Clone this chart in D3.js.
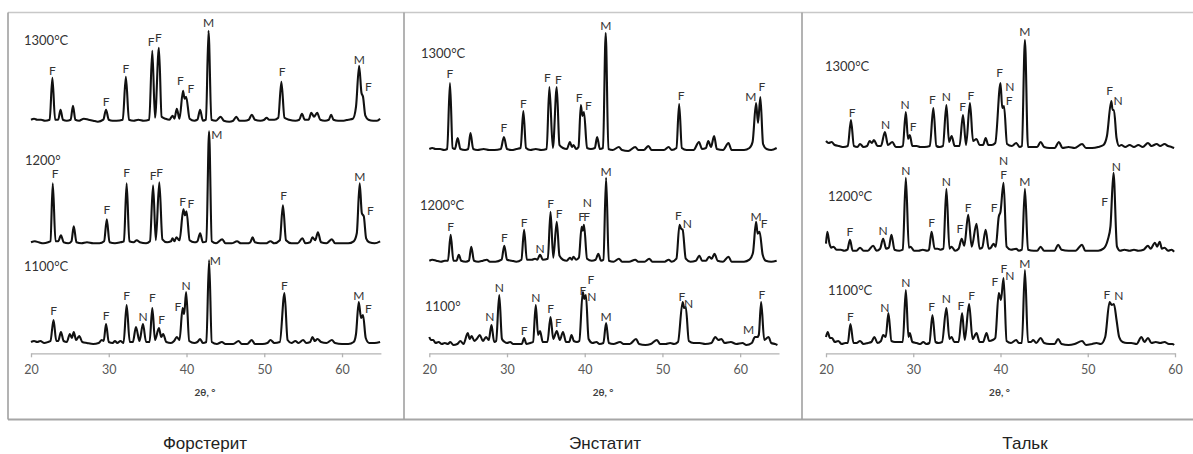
<!DOCTYPE html>
<html>
<head>
<meta charset="utf-8">
<script src="https://cdn.jsdelivr.net/npm/d3@7"></script>
<style>
  body { margin: 0; background: #fff; }
  svg { display: block; }
</style>
</head>
<body>
<svg id="chart"></svg>
<script>
"use strict"
// minerali e temperature
const minerals = ["Форстерит", "Энстатит", "Тальк"];
const temps = [["1300°C", "1200°", "1100°C"], ["1300°C", "1200°C", "1100°"], ["1300°C", "1200°C", "1100°C"]];
const xMax = [65, 65, 60];
const ticks = [[20, 30, 40, 50, 60], [20, 30, 40, 50, 60], [20, 30, 40, 50, 60]];
const axisTitle = "2θ, °";

// diffrattogrammi: [2θ, intensità]
const fo1300 = [[20.0,1],[20.4,2],[20.8,1],[21.3,1],[21.8,0],[22.4,1],[22.75,43],[23.1,1],[23.5,1],[23.8,11],[24.1,1],[24.6,0],[25.1,1],[25.4,15],[25.7,1],[26.2,0],[26.8,2],[27.4,1],[28.0,0],[28.6,-1],[29.3,1],[29.65,11],[30.0,1],[30.5,0],[31.0,0],[31.8,1],[32.2,44],[32.6,1],[33.2,0],[33.8,1],[34.5,0],[35.2,1],[35.6,70],[35.95,3],[36.45,73],[36.8,4],[37.3,2],[37.8,1],[38.2,5],[38.45,2],[38.75,12],[39.1,2],[39.55,30],[39.75,22],[39.95,24],[40.4,2],[41.0,0],[41.4,1],[41.75,11],[42.1,0],[42.5,1],[42.83,90],[43.2,1],[43.8,0],[44.4,4],[44.8,0],[45.5,-1],[46.0,0],[46.4,4],[46.8,0],[47.5,0],[48.0,1],[48.4,6],[48.8,1],[49.5,0],[50.0,1],[50.3,3],[50.6,1],[51.3,1],[51.8,3],[52.2,39],[52.6,3],[53.2,1],[54.0,0],[54.5,1],[54.85,7],[55.2,1],[55.7,1],[56.05,8],[56.4,4],[56.8,8],[57.2,1],[57.8,0],[58.3,1],[58.6,6],[58.9,1],[59.5,0],[60.2,0],[60.8,1],[61.4,2],[61.8,14],[62.2,55],[62.5,28],[62.7,24],[63.0,5],[63.4,1],[64.0,0],[64.5,0],[64.9,2]];
const fo1200 = [[20.0,1],[20.5,2],[21.0,1],[21.6,0],[22.2,1],[22.5,2],[22.8,60],[23.15,2],[23.5,2],[23.85,8],[24.2,1],[24.8,0],[25.2,2],[25.5,17],[25.85,1],[26.5,0],[27.2,1],[28.0,0],[28.8,0],[29.4,2],[29.75,24],[30.1,1],[30.8,0],[31.5,1],[31.95,2],[32.3,60],[32.65,2],[33.2,1],[33.6,3],[34.0,1],[34.8,0],[35.3,2],[35.7,58],[36.05,3],[36.5,61],[36.9,4],[37.5,1],[38.0,2],[38.2,5],[38.45,2],[38.7,6],[39.1,3],[39.6,34],[39.8,28],[40.0,32],[40.4,3],[41.0,1],[41.4,2],[41.75,10],[42.1,1],[42.55,2],[42.9,112],[43.25,2],[43.8,0],[44.6,4],[45.0,0],[45.8,0],[46.5,2],[47.0,0],[47.8,0],[48.2,1],[48.5,6],[48.8,1],[49.5,0],[50.2,0],[50.8,2],[51.3,0],[52.0,3],[52.4,38],[52.8,3],[53.5,0],[54.3,0],[54.9,5],[55.3,0],[55.9,1],[56.2,6],[56.55,3],[56.9,11],[57.3,1],[58.0,0],[58.7,4],[59.1,0],[60.0,0],[60.8,0],[61.5,2],[61.9,10],[62.27,60],[62.55,30],[62.8,27],[63.1,5],[63.5,1],[64.2,0],[64.9,2]];
const fo1100 = [[20.0,2],[20.4,3],[20.8,2],[21.2,3],[21.7,1],[22.2,2],[22.5,3],[22.9,24],[23.25,3],[23.5,3],[23.85,12],[24.2,3],[24.6,2],[25.0,10],[25.25,6],[25.5,12],[25.8,4],[26.2,8],[26.6,2],[27.2,1],[28.0,0],[28.7,1],[29.1,4],[29.35,3],[29.65,20],[30.0,2],[30.5,1],[30.8,3],[31.1,1],[31.5,3],[31.9,1],[32.3,39],[32.7,2],[33.1,2],[33.5,17],[33.95,3],[34.4,20],[34.8,2],[35.25,2],[35.6,36],[35.95,4],[36.45,16],[36.75,7],[37.0,10],[37.4,2],[38.0,1],[38.4,3],[38.75,7],[39.1,4],[39.5,36],[39.7,30],[39.95,52],[40.35,3],[41.0,1],[41.4,2],[41.75,5],[42.1,1],[42.55,2],[42.9,84],[43.25,2],[43.9,0],[44.55,2],[45.0,0],[46.0,0],[46.7,3],[47.1,0],[47.8,0],[48.4,4],[48.8,0],[49.8,0],[50.4,1],[50.8,4],[51.3,1],[52.0,2],[52.6,51],[53.0,4],[53.5,1],[54.0,3],[54.4,1],[55.0,4],[55.4,1],[55.9,2],[56.2,7],[56.5,3],[56.85,5],[57.3,2],[58.0,1],[58.7,4],[59.1,1],[60.0,0],[60.8,0],[61.5,2],[61.8,10],[62.15,42],[62.45,26],[62.7,29],[63.05,6],[63.5,1],[64.2,1],[64.9,2]];

const en1300 = [[20.0,1],[20.4,2],[20.8,1],[21.4,1],[21.9,0],[22.3,1],[22.66,67],[23.0,2],[23.3,1],[23.65,12],[24.0,1],[24.6,0],[25.0,1],[25.3,17],[25.65,1],[26.2,0],[27.0,1],[27.7,0],[28.4,0],[29.2,1],[29.6,13],[30.0,1],[30.6,0],[31.2,1],[31.75,2],[32.1,39],[32.45,2],[33.0,0],[33.7,1],[34.4,0],[35.1,1],[35.45,63],[35.9,2],[36.4,63],[36.75,5],[37.2,2],[37.7,1],[38.1,8],[38.35,3],[38.55,5],[38.9,1],[39.2,3],[39.5,45],[39.7,34],[39.9,38],[40.3,2],[40.8,1],[41.3,2],[41.6,13],[41.95,1],[42.35,2],[42.7,117],[43.05,1],[43.6,0],[44.4,3],[44.8,0],[45.6,-1],[46.5,3],[46.9,0],[47.6,0],[48.2,4],[48.6,0],[49.4,0],[50.2,0],[50.8,3],[51.2,0],[51.8,2],[52.15,46],[52.5,2],[53.1,0],[54.0,0],[54.7,8],[55.1,1],[55.6,2],[55.9,9],[56.25,3],[56.65,14],[57.0,1],[57.8,0],[58.5,7],[58.9,0],[59.8,0],[60.5,0],[61.2,2],[61.6,8],[62.05,47],[62.3,27],[62.6,53],[62.95,6],[63.4,1],[64.0,0],[64.7,2]];
const en1200 = [[20.0,1],[20.4,2],[20.9,1],[21.5,0],[22.0,1],[22.4,1],[22.75,27],[23.1,1],[23.5,1],[23.8,7],[24.1,1],[24.7,0],[25.1,1],[25.4,15],[25.75,1],[26.3,0],[26.9,1],[27.4,2],[27.8,0],[28.5,0],[29.3,2],[29.65,16],[30.0,2],[30.6,1],[31.2,0],[31.85,2],[32.2,32],[32.55,2],[33.2,2],[33.6,3],[33.9,2],[34.25,7],[34.6,2],[35.25,3],[35.6,50],[35.95,4],[36.4,40],[36.75,6],[37.2,2],[37.7,1],[38.1,4],[38.35,2],[38.55,5],[38.9,2],[39.25,4],[39.6,35],[39.75,31],[39.9,37],[40.3,3],[40.9,1],[41.4,2],[41.75,8],[42.1,1],[42.4,2],[42.75,84],[43.1,1],[43.7,0],[44.4,3],[44.8,0],[45.7,0],[46.5,2],[46.9,0],[47.7,0],[48.3,3],[48.7,0],[49.6,0],[50.3,0],[50.8,2],[51.2,0],[51.8,3],[52.2,37],[52.4,33],[52.6,32],[53.0,3],[53.6,0],[54.3,1],[54.75,6],[55.1,1],[55.6,1],[56.0,5],[56.35,3],[56.7,8],[57.1,1],[57.8,0],[58.5,5],[58.9,0],[59.8,0],[60.5,0],[61.2,2],[61.65,9],[62.05,40],[62.25,28],[62.5,30],[62.9,7],[63.3,1],[64.0,0],[64.7,1]];
const en1100 = [[20.0,8],[20.2,5],[20.5,5],[20.8,2],[21.2,3],[21.6,1],[22.0,2],[22.4,1],[22.7,3],[23.1,0],[23.6,1],[24.0,4],[24.4,1],[24.95,12],[25.2,6],[25.45,9],[25.8,4],[26.1,6],[26.5,10],[26.9,4],[27.3,8],[27.65,5],[28.0,20],[28.35,3],[28.6,4],[29.0,50],[29.35,6],[29.7,3],[30.0,2],[30.4,3],[30.8,1],[31.4,1],[31.9,1],[32.2,7],[32.5,1],[33.0,2],[33.35,3],[33.7,40],[34.0,10],[34.25,14],[34.6,3],[35.2,3],[35.6,28],[35.95,6],[36.4,14],[36.8,5],[37.2,13],[37.6,3],[38.0,3],[38.3,10],[38.6,4],[39.0,3],[39.3,4],[39.75,53],[39.95,46],[40.15,50],[40.5,6],[41.0,2],[41.5,3],[41.9,1],[42.4,2],[42.75,22],[43.1,2],[43.7,1],[44.55,3],[45.0,1],[45.8,1],[46.6,6],[47.0,1],[47.8,0],[48.5,1],[49.3,5],[49.7,1],[50.4,1],[51.0,2],[51.5,1],[52.0,3],[52.6,43],[52.8,37],[53.0,38],[53.4,4],[54.0,2],[54.8,2],[55.5,1],[56.3,2],[56.8,8],[57.2,5],[57.6,6],[58.0,2],[58.8,3],[59.5,1],[60.3,2],[60.8,0],[61.5,2],[61.9,8],[62.2,8],[62.4,10],[62.7,43],[63.1,5],[63.65,8],[64.0,2],[64.5,1],[64.8,0]];

const ta1300 = [[20.0,7],[20.3,5],[20.65,6],[21.0,3],[21.5,2],[22.0,1],[22.5,2],[22.86,28],[23.2,2],[23.6,1],[23.9,4],[24.3,1],[24.7,2],[25.0,7],[25.25,5],[25.5,8],[25.9,2],[26.3,2],[26.75,16],[27.1,3],[27.6,6],[28.0,1],[28.5,1],[28.8,2],[29.15,36],[29.4,9],[29.6,13],[29.9,2],[30.4,2],[30.8,1],[31.3,1],[31.9,2],[32.3,40],[32.65,2],[33.0,1],[33.4,2],[33.8,43],[34.1,6],[34.4,12],[34.75,2],[35.3,2],[35.7,33],[36.05,3],[36.5,45],[36.85,7],[37.25,9],[37.6,3],[38.0,3],[38.3,10],[38.6,3],[39.0,3],[39.4,5],[40.0,65],[40.2,40],[40.4,42],[40.75,4],[41.3,2],[41.8,5],[42.2,1],[42.45,2],[42.8,108],[43.15,1],[43.7,1],[44.2,1],[44.6,6],[45.0,1],[45.6,0],[46.2,0],[46.7,6],[47.1,0],[47.8,1],[48.5,0],[49.35,4],[49.8,0],[50.5,0],[51.2,1],[51.8,3],[52.2,12],[52.7,47],[52.85,38],[53.0,38],[53.3,10],[53.6,2],[53.85,3],[54.3,1],[54.8,3],[55.3,1],[55.8,3],[56.3,1],[56.9,5],[57.3,2],[57.9,4],[58.3,2],[58.8,4],[59.2,2],[59.6,1],[59.9,0]];
const ta1200 = [[20.0,8],[20.15,20],[20.4,8],[20.6,4],[20.85,5],[21.2,2],[21.7,2],[22.1,1],[22.45,2],[22.75,12],[23.05,1],[23.5,1],[23.9,4],[24.3,1],[24.8,1],[25.4,6],[25.8,1],[26.2,3],[26.55,13],[26.9,3],[27.2,4],[27.5,17],[27.85,2],[28.4,1],[28.8,2],[29.15,74],[29.5,4],[29.7,5],[30.1,1],[30.6,1],[31.1,2],[31.6,1],[31.8,2],[32.1,20],[32.45,3],[32.8,3],[33.1,2],[33.45,3],[33.8,63],[34.15,3],[34.4,5],[34.8,1],[35.2,3],[35.55,13],[35.85,6],[36.3,37],[36.7,5],[37.25,28],[37.6,3],[37.9,4],[38.3,22],[38.65,3],[38.9,4],[39.2,8],[39.45,5],[39.8,35],[40.0,40],[40.35,69],[40.7,5],[41.2,2],[41.8,3],[42.1,1],[42.45,2],[42.8,63],[43.15,2],[43.8,1],[44.2,1],[44.6,5],[45.0,1],[45.8,1],[46.2,1],[46.6,7],[47.0,2],[47.8,1],[48.6,1],[49.35,7],[49.7,1],[50.5,1],[51.2,1],[51.8,3],[52.3,12],[52.6,25],[52.95,79],[53.35,5],[53.7,1],[54.2,2],[54.8,1],[55.3,2],[55.8,1],[56.4,2],[56.9,6],[57.2,3],[57.7,9],[57.95,5],[58.25,10],[58.5,3],[58.8,4],[59.2,1],[59.6,2],[59.9,0]];
const ta1100 = [[20.0,8],[20.2,13],[20.45,7],[20.7,7],[21.0,3],[21.4,4],[21.8,1],[22.2,2],[22.5,2],[22.8,21],[23.15,2],[23.5,2],[23.9,4],[24.3,1],[24.8,2],[25.2,3],[25.55,8],[25.9,2],[26.3,4],[26.55,10],[26.85,8],[27.15,32],[27.5,4],[27.9,3],[28.3,3],[28.8,3],[29.15,55],[29.45,8],[29.6,12],[29.9,3],[30.4,2],[30.8,1],[31.15,3],[31.5,1],[31.85,2],[32.2,30],[32.55,3],[32.9,2],[33.3,3],[33.8,37],[34.15,6],[34.4,8],[34.7,3],[35.2,3],[35.6,32],[35.9,5],[36.4,41],[36.8,6],[37.25,12],[37.6,3],[38.0,3],[38.4,12],[38.7,4],[39.1,5],[39.4,7],[39.8,52],[40.05,45],[40.35,67],[40.7,4],[41.2,2],[41.8,5],[42.1,2],[42.45,2],[42.8,75],[43.15,3],[43.5,3],[43.75,5],[44.1,2],[44.6,7],[45.0,2],[45.6,1],[46.2,1],[46.6,6],[47.0,1],[47.8,0],[48.5,1],[49.35,4],[49.8,0],[50.5,1],[51.0,2],[51.5,1],[52.0,8],[52.5,43],[52.75,40],[53.0,41],[53.3,25],[53.6,8],[54.0,3],[54.5,2],[55.0,2],[55.6,1],[56.15,8],[56.5,3],[56.9,7],[57.3,2],[57.8,3],[58.3,2],[58.8,3],[59.3,1],[59.7,1],[59.9,0]];

// etichette dei picchi: [2θ, intensità, fase]
const foLab1300 = [[22.75,46,"F"],[29.65,15,"F"],[32.2,48,"F"],[35.45,75,"F"],[36.4,79,"F"],[39.2,36,"F"],[40.55,28,"F"],[42.83,94,"M"],[52.3,45,"F"],[62.23,57,"M"],[63.4,30,"F"]];
const foLab1200 = [[23.1,65,"F"],[29.75,29,"F"],[32.3,66,"F"],[35.7,63,"F"],[36.55,66,"F"],[39.5,37,"F"],[40.55,35,"F"],[43.9,104,"M"],[52.5,43,"F"],[62.3,62,"M"],[63.65,28,"F"]];
const foLab1100 = [[22.9,29,"F"],[29.65,24,"F"],[32.3,44,"F"],[34.4,23,"N"],[35.6,42,"F"],[36.8,20,"F"],[38.9,33,"F"],[39.95,54,"N"],[43.7,79,"M"],[52.6,54,"F"],[62.15,44,"M"],[63.4,31,"F"]];
const enLab1300 = [[22.66,72,"F"],[29.6,18,"F"],[32.1,42,"F"],[35.2,68,"F"],[36.6,66,"F"],[39.27,48,"F"],[40.47,40,"F"],[42.7,120,"M"],[52.4,50,"F"],[61.37,49,"M"],[62.8,59,"F"]];
const enLab1200 = [[22.75,31,"F"],[29.65,20,"F"],[32.2,35,"F"],[34.25,9,"N"],[35.6,54,"F"],[36.7,44,"F"],[39.6,41,"F"],[40.25,41,"F"],[40.35,55,"N"],[42.75,86,"M"],[52.06,42,"F"],[53.2,34,"N"],[62.05,41,"M"],[63.1,34,"F"]];
const enLab1100 = [[27.8,24,"N"],[29.0,53,"N"],[32.2,10,"F"],[33.7,43,"N"],[35.6,32,"F"],[36.6,18,"F"],[39.75,50,"F"],[40.8,61,"F"],[40.9,44,"N"],[42.75,24,"M"],[52.5,44,"F"],[53.35,37,"N"],[61.07,11,"M"],[62.8,46,"F"]];
const taLab1300 = [[23.0,31,"F"],[26.83,19,"N"],[29.05,39,"N"],[30.0,17,"F"],[32.2,44,"F"],[33.8,47,"N"],[35.65,37,"F"],[36.6,48,"F"],[39.9,71,"F"],[41.07,57,"N"],[41.0,43,"F"],[42.8,112,"M"],[52.5,53,"F"],[53.47,43,"N"]];
const taLab1200 = [[22.75,16,"F"],[26.55,17,"N"],[29.15,77,"N"],[32.1,25,"F"],[33.8,66,"N"],[35.35,19,"F"],[36.3,40,"F"],[39.27,40,"F"],[40.35,87,"N"],[40.35,73,"F"],[42.8,66,"M"],[51.95,46,"F"],[53.28,81,"N"]];
const taLab1100 = [[22.8,24,"F"],[26.75,33,"N"],[29.15,58,"N"],[32.1,34,"F"],[33.8,42,"N"],[35.45,35,"F"],[36.7,45,"F"],[39.35,59,"F"],[40.38,72,"F"],[41.07,65,"N"],[42.8,77,"M"],[52.2,46,"F"],[53.55,45,"N"]];

const traces = [[fo1300, fo1200, fo1100], [en1300, en1200, en1100], [ta1300, ta1200, ta1100]];
const peakLabels = [[foLab1300, foLab1200, foLab1100], [enLab1300, enLab1200, enLab1100], [taLab1300, taLab1200, taLab1100]];

// impaginazione
const W = 1193, H = 454;
const frame = { left: 8, top: 12.5, bottom: 419.5, dividers: [404, 802] };
const axisY = 353.3;
const xRanges = [[31, 380.9], [429.3, 779], [826, 1175]];
const baseY = [[120.7, 243.3, 344], [150, 261.7, 345], [148, 251.7, 345]];
const tempPos = [[[24, 44.5], [25, 164.5], [24, 271]], [[421, 58], [420, 209.5], [425, 310.5]], [[825, 71], [828, 201], [828, 294.5]]];
const titleX = [205, 605, 1025];

const svg = d3.select("#chart").attr("width", W).attr("height", H);
const font = "Lato, 'Open Sans', 'Noto Sans', sans-serif";

// cornice
const cornice = svg.append("g").attr("fill", "none");
cornice.append("line").attr("x1", frame.left).attr("x2", W).attr("y1", frame.top).attr("y2", frame.top)
  .attr("stroke", "#c8c8c8").attr("stroke-width", 1.5);
cornice.append("line").attr("x1", frame.left).attr("x2", W).attr("y1", frame.bottom).attr("y2", frame.bottom)
  .attr("stroke", "#a6a6a6").attr("stroke-width", 2);
[frame.left].concat(frame.dividers).forEach(function (x) {
  cornice.append("line").attr("x1", x).attr("x2", x).attr("y1", frame.top).attr("y2", frame.bottom)
    .attr("stroke", "#a0a0a0").attr("stroke-width", 1.6);
});

minerals.forEach(function (name, p) {
  const g = svg.append("g");
  const scalaX = d3.scaleLinear().domain([20, xMax[p]]).range(xRanges[p]);
  // 1 unità di intensità = 1 px
  const scalaY = d3.scaleLinear().domain([0, 340]).range([axisY, axisY - 340]);

  const asseX = d3.axisBottom(scalaX).tickValues(ticks[p]).tickSize(4).tickSizeOuter(0).tickPadding(8);
  const ax = g.append("g").attr("transform", `translate(0,${axisY})`).call(asseX);
  ax.select(".domain").attr("stroke", "#b3b3b3").attr("stroke-width", 1.3);
  ax.selectAll(".tick line").attr("stroke", "#b3b3b3").attr("stroke-width", 1.3);
  ax.selectAll(".tick text").attr("fill", "#595959").attr("font-size", "12.5px").attr("font-family", font);

  g.append("text")
    .attr("x", (xRanges[p][0] + xRanges[p][1]) / 2 - 1)
    .attr("y", 396)
    .attr("text-anchor", "middle")
    .attr("font-size", "10px").attr("font-weight", "bold").attr("fill", "#404040")
    .attr("font-family", font)
    .text(axisTitle);

  const linea = d3.line()
    .x(function (d) { return scalaX(d[0]); })
    .curve(d3.curveMonotoneX);

  traces[p].forEach(function (serie, i) {
    const off = axisY - baseY[p][i];
    linea.y(function (d) { return scalaY(d[1] + off); });
    g.append("path")
      .datum(serie)
      .attr("d", linea)
      .attr("fill", "none")
      .attr("stroke", "#111")
      .attr("stroke-width", 2.1)
      .attr("stroke-linejoin", "round");

    g.selectAll(null)
      .data(peakLabels[p][i])
      .enter()
      .append("text")
      .attr("x", function (d) { return scalaX(d[0]); })
      .attr("y", function (d) { return scalaY(d[1] + off); })
      .attr("text-anchor", "middle")
      .attr("font-size", "12px")
      .attr("fill", "#333")
      .attr("font-family", font)
      .text(function (d) { return d[2]; });

    g.append("text")
      .attr("x", tempPos[p][i][0])
      .attr("y", tempPos[p][i][1])
      .attr("font-size", "13px")
      .attr("fill", "#333")
      .attr("font-family", font)
      .text(temps[p][i]);
  });

  svg.append("text")
    .attr("x", titleX[p])
    .attr("y", 449)
    .attr("text-anchor", "middle")
    .attr("font-size", "17px")
    .attr("fill", "#222")
    .attr("font-family", "'Liberation Sans', Arial, sans-serif")
    .text(name);
});
</script>
</body>
</html>
